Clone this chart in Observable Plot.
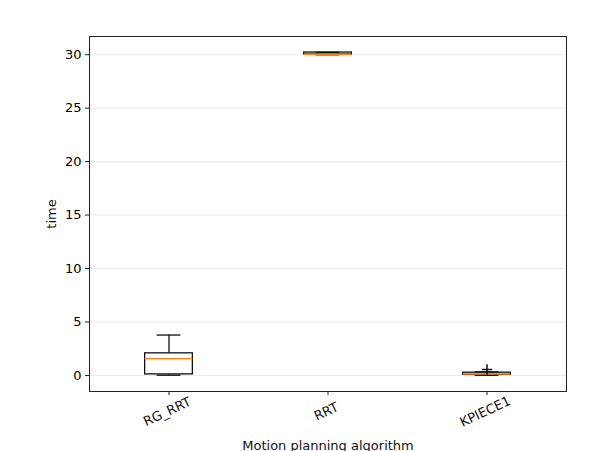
<!DOCTYPE html>
<html>
<head>
<meta charset="utf-8">
<script src="https://cdn.jsdelivr.net/npm/d3@7"></script>
<script src="https://cdn.jsdelivr.net/npm/@observablehq/plot@0.6"></script>
<style>
  html, body { margin: 0; padding: 0; background: #fff; overflow: hidden; }
  svg { display: block; }
</style>
</head>
<body>
<div id="chart"></div>
<script>
const categories = ["RG_RRT", "RRT", "KPIECE1"];
const q1 = [0.1, 30.02, 0.06];
const median = [1.58, 30.04, 0.12];
const q3 = [2.07, 30.2, 0.26];
const whiskerLow = [0.02, 29.99, 0.01];
const whiskerHigh = [3.78, 30.22, 0.34];
const outlierCategory = ["KPIECE1"];
const outlierValue = [0.56];
const yTicks = [0, 5, 10, 15, 20, 25, 30];
const xLabel = "Motion planning algorithm";
const yLabel = "time";

const rows = categories.map((c, i) => ({
  cat: c, pos: i + 1, q1: q1[i], med: median[i], q3: q3[i], lo: whiskerLow[i], hi: whiskerHigh[i]
}));
const outliers = outlierCategory.map((c, i) => ({pos: categories.indexOf(c) + 1, value: outlierValue[i]}));

const font = "DejaVu Sans, sans-serif";
const chart = Plot.plot({
  width: 615,
  height: 451,
  marginLeft: 89,
  marginRight: 49,
  marginTop: 36,
  marginBottom: 60,
  style: {fontFamily: font, fontSize: "13px", color: "#000", background: "#fff"},
  x: {domain: [0.5, 3.5], axis: null},
  y: {domain: [-1.5, 31.7], axis: null},
  marks: [
    Plot.gridY(yTicks, {stroke: "#ebebeb", strokeOpacity: 1, strokeWidth: 1}),
    Plot.axisY({ticks: yTicks, tickSize: 4, tickPadding: 4, fontSize: 13, label: null, stroke: "#222"}),
    Plot.axisX({ticks: [1, 2, 3], tickSize: 4, tickFormat: () => "", label: null, stroke: "#222"}),
    Plot.text(rows, {x: "pos", text: "cat", frameAnchor: "bottom", dy: 24, rotate: -25, textAnchor: "middle", fontSize: 13, fill: "#111"}),
    Plot.text([xLabel], {text: d => d, frameAnchor: "bottom", dy: 58, lineAnchor: "bottom", textAnchor: "middle", fontSize: 13, fill: "#111"}),
    Plot.text([yLabel], {text: d => d, frameAnchor: "left", dx: -38, rotate: -90, textAnchor: "middle", fontSize: 13, fill: "#111"}),
    Plot.ruleX(rows, {x: "pos", y1: "q3", y2: "hi", stroke: "#111", strokeWidth: 1.3}),
    Plot.ruleX(rows, {x: "pos", y1: "lo", y2: "q1", stroke: "#111", strokeWidth: 1.3}),
    Plot.ruleY(rows, {y: "hi", x1: d => d.pos - 0.075, x2: d => d.pos + 0.075, stroke: "#111", strokeWidth: 1.3}),
    Plot.ruleY(rows, {y: "lo", x1: d => d.pos - 0.075, x2: d => d.pos + 0.075, stroke: "#111", strokeWidth: 1.3}),
    Plot.rect(rows, {x1: d => d.pos - 0.15, x2: d => d.pos + 0.15, y1: "q1", y2: "q3", fill: "none", stroke: "#111", strokeWidth: 1.3}),
    Plot.ruleY(rows, {y: "med", x1: d => d.pos - 0.15, x2: d => d.pos + 0.15, stroke: "#ff7f0e", strokeWidth: 1.3}),
    Plot.dot(outliers, {x: "pos", y: "value", symbol: "plus", r: 3.5, stroke: "#111", strokeWidth: 1.5}),
    Plot.frame({stroke: "#222", strokeWidth: 1})
  ]
});
document.getElementById("chart").appendChild(chart);
</script>
</body>
</html>
